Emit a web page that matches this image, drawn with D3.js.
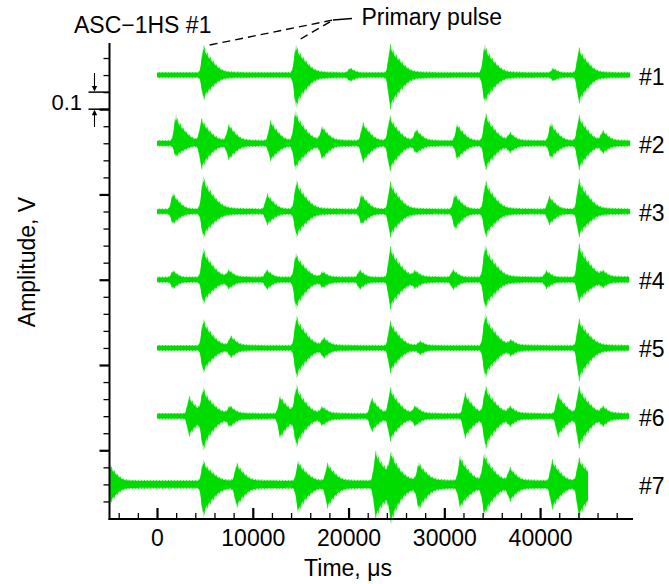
<!DOCTYPE html>
<html><head><meta charset="utf-8">
<script src="https://cdn.jsdelivr.net/npm/d3@7"></script>
<style>
body{margin:0;background:#fff}
svg{display:block}
text{font-family:"Liberation Sans",Arial,Helvetica,sans-serif;fill:#000}
</style>
</head><body>
<svg id="c" width="669" height="584"></svg>
<script>
// ---------- data ----------
const timeTicks = [0, 10000, 20000, 30000, 40000];
const timeMinorTicks = d3.range(-4000, 48001, 2000).filter(v => v % 10000 !== 0);
const ampMajorTicks = [0, 0.5, 1.0, 1.5, 2.0];
const ampMinorTicks = d3.range(-3, 24).map(v => v / 10).filter(v => Math.abs(v * 2 - Math.round(v * 2)) > 1e-6);
const traceLabels = ["#1", "#2", "#3", "#4", "#5", "#6", "#7"];
const traceOffsets = [2.2, 1.8, 1.4, 1.0, 0.6, 0.2, -0.2];   // V
const traceStart = [0, 0, 0, 0, 0, 0, -4900];                // µs
const traceEnd = [49400, 49400, 49400, 49300, 49300, 49300, 45000];
const traceNoise = [0.018, 0.019, 0.018, 0.019, 0.018, 0.019, 0.026]; // V, baseline half-band
// bursts: [time µs, upward amplitude V, downward amplitude V]
const bursts1 = [[4900,.176,.147],[14550,.176,.19],[20200,.035,.03],[24400,.18,.2],[34250,.176,.165],[41400,.035,.03],[44100,.16,.165]];
const bursts2 = [[2000,.165,.082],[4700,.135,.147],[7550,.1,.088],[11900,.13,.1],[14500,.18,.147],[17300,.082,.082],[21550,.117,.11],[24350,.153,.158],[27100,.07,.047],[31400,.11,.094],[34350,.17,.153],[36900,.047,.04],[41150,.117,.088],[44100,.158,.153],[46600,.06,.045]];
const bursts3 = [[1700,.11,.076],[4870,.2,.153],[11550,.1,.076],[14600,.176,.147],[21400,.1,.076],[24400,.17,.147],[31150,.1,.106],[34350,.176,.147],[41000,.088,.076],[44100,.188,.147]];
const bursts4 = [[1700,.053,.053],[4870,.182,.141],[7550,.041,.041],[11500,.053,.053],[14550,.153,.17],[17350,.035,.035],[21200,.053,.053],[24400,.194,.17],[27000,.035,.035],[30950,.053,.053],[34300,.2,.17],[40700,.047,.047],[44100,.21,.13],[46600,.03,.03]];
const bursts5 = [[4870,.17,.147],[7750,.059,.047],[14600,.188,.176],[17450,.047,.047],[24400,.158,.147],[27500,.03,.03],[34300,.2,.176],[37000,.03,.03],[44100,.17,.194]];
const bursts6 = [[3400,.117,.12],[4870,.147,.18],[7650,.047,.047],[12900,.117,.13],[14600,.164,.16],[17300,.04,.04],[22450,.106,.09],[24400,.158,.14],[27000,.047,.047],[32200,.135,.13],[34350,.164,.18],[36900,.04,.04],[41900,.13,.12],[44100,.164,.18],[46600,.04,.04]];
const bursts7 = [[-4900,.117,.117],[4870,.14,.19],[8370,.117,.123],[14780,.135,.164],[17840,.117,.13],[22880,.194,.2],[24500,.135,.17],[27380,.11,.13],[31700,.158,.13],[34220,.164,.17],[36900,.082,.082],[41300,.14,.14],[44100,.147,.19]];
const traceBursts = [bursts1, bursts2, bursts3, bursts4, bursts5, bursts6, bursts7];

// ---------- scales ----------
const svg = d3.select("#c");
const x = d3.scaleLinear().domain([-4960, 49700]).range([109.5, 633]);
const y = d3.scaleLinear().domain([-0.4, 2.388]).range([518.5, 43]);

// burst envelope shape (rendering only): narrow tip + spindle body + tail
function shape(dt, amp) {
  if (dt < -1200) return 0;
  if (dt < 0) return Math.exp(-(dt / 330) * (dt / 330));
  const T = 500 + 5000 * amp;
  if (dt > 8 * T) return 0;
  return 0.28 * Math.exp(-dt / 260) + 0.57 * Math.exp(-(dt / T) * (dt / T)) + 0.15 * Math.exp(-dt / (2.5 * T));
}
function envelope(i) {
  const b = traceBursts[i], n = traceNoise[i];
  return d3.range(traceStart[i], traceEnd[i] + 1, 20).map(t => {
    let u = 0, d = 0;
    b.forEach(([t0, au, ad]) => {
      const s = shape(t - t0, Math.max(au, ad));
      u += au * s; d += ad * s;
    });
    return {t, up: Math.sqrt(n * n + u * u), dn: Math.sqrt(n * n + d * d)};
  });
}

const defs = svg.append("defs");
const pat = defs.append("pattern").attr("id", "fuzz").attr("patternUnits", "userSpaceOnUse")
  .attr("width", 3).attr("height", 4);
pat.append("rect").attr("width", 1.2).attr("height", 4).attr("fill", "#3fe03f");
pat.append("rect").attr("x", 1.2).attr("width", 1.8).attr("height", 4).attr("fill", "#b4f2b4");

const gTraces = svg.append("g");
traceOffsets.forEach((off, i) => {
  const env = envelope(i);
  const halo = d3.area().x(d => x(d.t))
    .y0(d => y(off - d.dn)).y1(d => y(off + d.up));
  const core = d3.area().x(d => x(d.t))
    .y0(d => y(off - d.dn * 0.88 + 0.003)).y1(d => y(off + d.up * 0.88 - 0.003));
  gTraces.append("path").attr("d", halo(env)).attr("fill", "url(#fuzz)");
  gTraces.append("path").attr("d", core(env)).attr("fill", "#00dc00");
  svg.append("text").attr("x", 639).attr("y", y(off) + 9.5)
    .attr("font-size", 23).text(traceLabels[i]);
});

// ---------- axes ----------
const xMajor = d3.axisBottom(x).tickValues(timeTicks).tickSize(-11).tickPadding(11).tickFormat(d3.format("d"));
const xMinor = d3.axisBottom(x).tickValues(timeMinorTicks).tickSize(-6).tickFormat("");
const gx = svg.append("g").attr("transform", "translate(0,519)");
gx.append("g").call(xMinor).call(g => g.select(".domain").remove())
  .selectAll("line").attr("stroke-width", 1.3);
gx.append("g").call(xMajor).call(g => g.select(".domain").remove())
  .call(g => g.selectAll("line").attr("stroke-width", 2.2))
  .call(g => g.selectAll("text").attr("font-size", 23).attr("font-family", "Liberation Sans, Arial, sans-serif").attr("fill", "#000"));
gx.append("line").attr("x1", 108.5).attr("x2", 633).attr("stroke", "#000").attr("stroke-width", 2);

const yMajor = d3.axisLeft(y).tickValues(ampMajorTicks).tickSize(10).tickFormat("");
const yMinor = d3.axisLeft(y).tickValues(ampMinorTicks).tickSize(6).tickFormat("");
const gy = svg.append("g").attr("transform", "translate(109.5,0)");
gy.append("g").call(yMinor).call(g => g.select(".domain").remove())
  .selectAll("line").attr("stroke-width", 1.3);
gy.append("g").call(yMajor).call(g => g.select(".domain").remove())
  .selectAll("line").attr("stroke-width", 2.2);
gy.append("line").attr("y1", 43).attr("y2", 520).attr("stroke", "#000").attr("stroke-width", 2);

// 0.1 V scale bar
const gb = svg.append("g").attr("stroke", "#000");
[2.0, 2.1].forEach(v => gb.append("line").attr("x1", 88.5).attr("x2", 109.5)
  .attr("y1", y(v)).attr("y2", y(v)).attr("stroke-width", 1.5));
gb.append("line").attr("x1", 94.5).attr("x2", 94.5).attr("y1", 73).attr("y2", y(2.1) - 4).attr("stroke-width", 1.1);
gb.append("line").attr("x1", 94.5).attr("x2", 94.5).attr("y1", 127).attr("y2", y(2.0) + 4).attr("stroke-width", 1.1);
svg.append("path").attr("d", `M91.8,${y(2.1) - 6}L97.2,${y(2.1) - 6}L94.5,${y(2.1) - 0.5}Z`).attr("fill", "#000");
svg.append("path").attr("d", `M91.8,${y(2.0) + 6}L97.2,${y(2.0) + 6}L94.5,${y(2.0) + 0.5}Z`).attr("fill", "#000");
svg.append("text").attr("x", 82).attr("y", 110).attr("text-anchor", "end").attr("font-size", 22).text("0.1");

// titles
svg.append("text").attr("x", 74).attr("y", 33).attr("font-size", 23).text("ASC\u22121HS #1");
svg.append("text").attr("transform", "translate(35,262) rotate(-90)").attr("text-anchor", "middle")
  .attr("font-size", 23).text("Amplitude, V");
svg.append("text").attr("x", 348).attr("y", 576).attr("text-anchor", "middle").attr("font-size", 23).text("Time, \u03bcs");

// primary pulse annotation
const ga = svg.append("g").attr("stroke", "#000").attr("stroke-width", 1.4).attr("fill", "none");
ga.append("line").attr("x1", x(5500)).attr("y1", 45).attr("x2", 333).attr("y2", 20).attr("stroke-dasharray", "8,5");
ga.append("line").attr("x1", x(15000)).attr("y1", 39).attr("x2", 333).attr("y2", 20).attr("stroke-dasharray", "8,5");
ga.append("line").attr("x1", 333).attr("y1", 20).attr("x2", 352).attr("y2", 18.5);
svg.append("text").attr("x", 361.5).attr("y", 25).attr("font-size", 23).text("Primary pulse");
</script>
</body></html>
